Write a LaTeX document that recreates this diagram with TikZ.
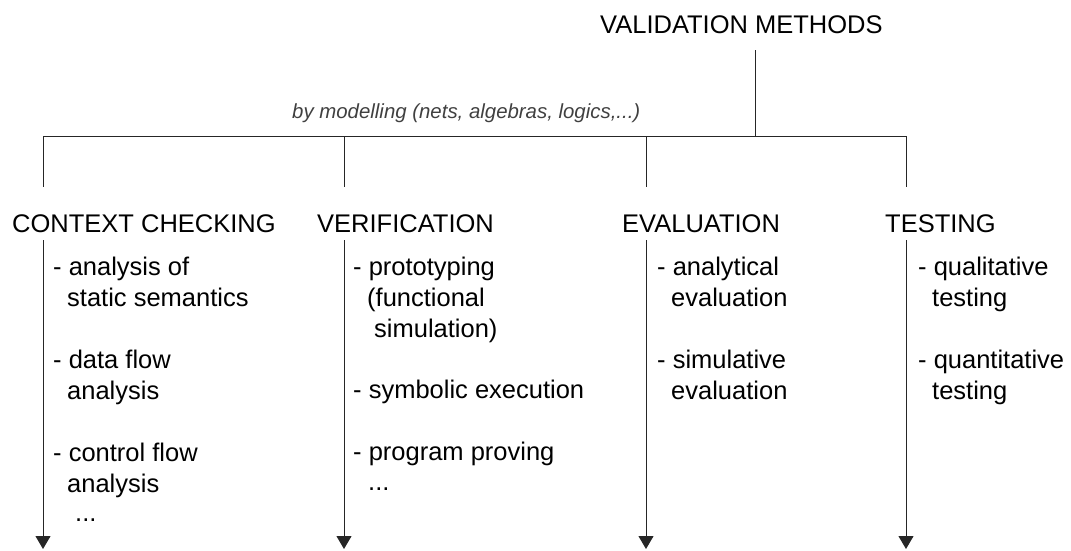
\documentclass[tikz,border=0pt]{standalone}
\usepackage{fontspec}
\setmainfont{Liberation Sans}
\usetikzlibrary{arrows.meta}
\begin{document}
\begin{tikzpicture}[x=1pt,y=-1pt,
  txt/.style={anchor=base west, inner sep=0pt, font=\fontsize{25.5}{30}\selectfont, text=black},
  note/.style={anchor=base west, inner sep=0pt, font=\fontsize{20.4}{24}\selectfont\itshape, text=black!75},
  wire/.style={line width=1pt, draw=black!85},
  flow/.style={wire, -{Triangle[width=15pt,length=13pt]}}]
\useasboundingbox (0,0) rectangle (1071,550);

% root and annotation
\node[txt] (root) at (600,33) {VALIDATION METHODS};
\node[note] (model) at (292,118) {by modelling (nets, algebras, logics,...)};

% bus with its junctions
\coordinate (r0) at (755,50);
\coordinate (r1) at (755,136);
\coordinate (b1) at (43,136);
\coordinate (b2) at (344,136);
\coordinate (b3) at (646,136);
\coordinate (b4) at (906,136);
\coordinate (d1) at (43,187);
\coordinate (d2) at (344,187);
\coordinate (d3) at (646,187);
\coordinate (d4) at (906,187);
\draw[wire] (r0) -- (r1);
\draw[wire] (b1) -- (b4);
\draw[wire] (b1) -- (d1);
\draw[wire] (b2) -- (d2);
\draw[wire] (b3) -- (d3);
\draw[wire] (b4) -- (d4);

% column headings
\node[txt] (h1) at (12,232) {CONTEXT CHECKING};
\node[txt] (h2) at (317,232) {VERIFICATION};
\node[txt] (h3) at (622,232) {EVALUATION};
\node[txt] (h4) at (885,232) {TESTING};

% downward arrows
\coordinate (s1) at (43,240);   \coordinate (e1) at (43,549);
\coordinate (s2) at (344,240);  \coordinate (e2) at (344,549);
\coordinate (s3) at (646,240);  \coordinate (e3) at (646,549);
\coordinate (s4) at (906,240);  \coordinate (e4) at (906,549);
\draw[flow] (s1) -- (e1);
\draw[flow] (s2) -- (e2);
\draw[flow] (s3) -- (e3);
\draw[flow] (s4) -- (e4);

% context checking
\node[txt] (c1a) at (53,275) {- analysis of};
\node[txt] (c1b) at (67,306) {static semantics};
\node[txt] (c2a) at (53,368) {- data flow};
\node[txt] (c2b) at (67,399) {analysis};
\node[txt] (c3a) at (53,461) {- control flow};
\node[txt] (c3b) at (67,492) {analysis};
\node[txt] (c3c) at (75,521) {...};

% verification
\node[txt] (v1a) at (353,275) {- prototyping};
\node[txt] (v1b) at (367,306) {(functional};
\node[txt] (v1c) at (374,337) {simulation)};
\node[txt] (v2a) at (353,398) {- symbolic execution};
\node[txt] (v3a) at (353,460) {- program proving};
\node[txt] (v3b) at (368,490) {...};

% evaluation
\node[txt] (e1a) at (657,275) {- analytical};
\node[txt] (e1b) at (671,306) {evaluation};
\node[txt] (e2a) at (657,368) {- simulative};
\node[txt] (e2b) at (671,399) {evaluation};

% testing
\node[txt] (t1a) at (918,275) {- qualitative};
\node[txt] (t1b) at (932,306) {testing};
\node[txt] (t2a) at (918,368) {- quantitative};
\node[txt] (t2b) at (932,399) {testing};
\end{tikzpicture}
\end{document}
